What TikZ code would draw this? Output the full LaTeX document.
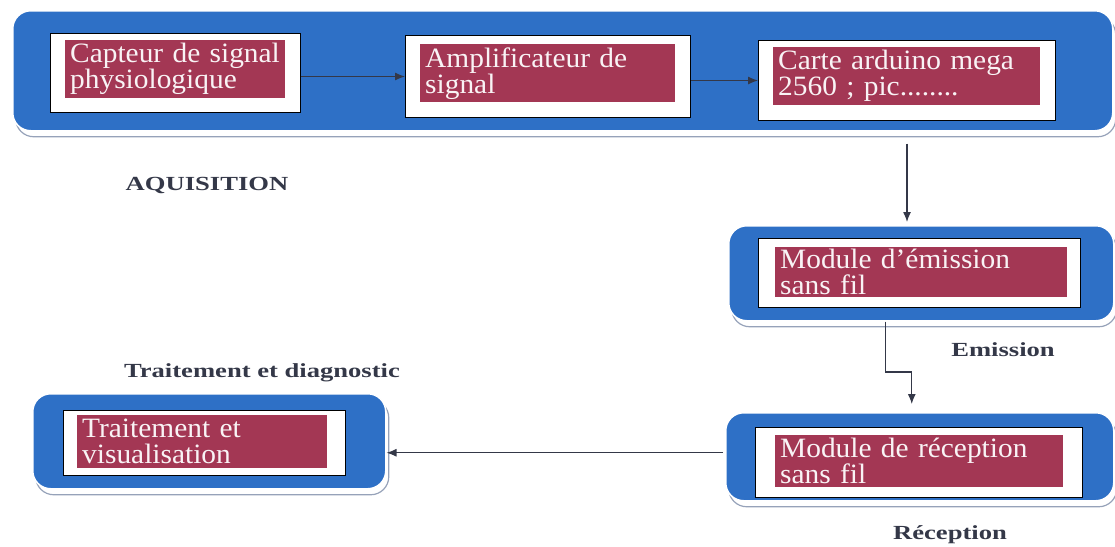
\documentclass[tikz,border=0pt]{standalone}
\usepackage{fontspec}
\usepackage{tikz}
\usetikzlibrary{arrows.meta,positioning,shadows}

\newfontfamily\lblfont[FakeStretch=1.05]{Liberation Serif}
\newfontfamily\headfont[FakeStretch=1.33]{Liberation Serif}
\newcommand\nohyph{\hyphenpenalty=10000\relax\exhyphenpenalty=10000\relax\frenchspacing}

\definecolor{bandblue}{RGB}{46,112,198}
\definecolor{labelred}{RGB}{163,55,84}
\definecolor{rimgray}{RGB}{150,162,185}
\definecolor{arrowgray}{RGB}{52,56,72}

\begin{document}
\begin{tikzpicture}[
  x=1pt, y=-1pt,
  band/.style={fill=bandblue, draw=white, line width=1.5pt, rounded corners=18pt,
    anchor=north west, inner sep=0pt,
    general shadow={shadow xshift=3pt, shadow yshift=-6pt, fill=white, draw=rimgray, line width=1.2pt}},
  frame/.style={fill=white, draw=black, line width=1pt, anchor=north west, inner sep=0pt},
  lbl/.style={fill=labelred, text=white!94!labelred, align=left, anchor=north west,
    inner xsep=5pt, inner ysep=0pt, execute at begin node=\nohyph,
    font=\lblfont\fontsize{28}{26}\selectfont},
  head/.style={text=arrowgray, font=\headfont\bfseries\fontsize{20}{22}\selectfont},
  link/.style={draw=arrowgray, line width=1.2pt, -{Latex[length=10pt,width=8pt]}}
]
\useasboundingbox (0,0) rectangle (1115,546);

% acquisition chain
\node[band, minimum width=1100pt, minimum height=120pt] (acq) at (12,10) {};
\node[frame, minimum width=250pt, minimum height=79pt] (capt) at (50,33) {};
\node[lbl, minimum height=58pt, text width=210pt] (captl) at (65,40) {Capteur de signal\\physiologique};
\node[frame, minimum width=285pt, minimum height=82pt] (ampl) at (405,35) {};
\node[lbl, minimum height=58pt, text width=245pt] (ampll) at (420,44) {Amplificateur de\\signal};
\node[frame, minimum width=297pt, minimum height=80pt] (carte) at (758,40) {};
\node[lbl, minimum height=58pt, text width=257pt] (cartel) at (773,47) {Carte arduino mega\\2560 ; pic........};

% emission
\node[band, minimum width=385pt, minimum height=95pt] (emis) at (728,225) {};
\node[frame, minimum width=322pt, minimum height=69pt] (emisf) at (758,238) {};
\node[lbl, minimum height=50pt, text width=282pt] (emisl) at (775,247) {Module d’émission\\sans fil};

% reception
\node[band, minimum width=388pt, minimum height=88pt] (recep) at (725,412) {};
\node[frame, minimum width=327pt, minimum height=70pt] (recepf) at (755,427) {};
\node[lbl, minimum height=52pt, text width=278pt] (recepl) at (775,435) {Module de réception\\sans fil};

% traitement
\node[band, minimum width=353pt, minimum height=95pt] (trait) at (32,393) {};
\node[frame, minimum width=282pt, minimum height=65pt] (traitf) at (63,410) {};
\node[lbl, minimum height=53pt, text width=240pt] (traitl) at (77,415) {Traitement et\\visualisation};

% stage titles
\node[head] (tacq) at (207,185) {AQUISITION};
\node[head] (temis) at (1003,350) {Emission};
\node[head] (trecep) at (950,535) {Réception};
\node[head] (ttrait) at (262,373) {Traitement et diagnostic};

% connectors
\draw[link] (capt.east |- ampl.west) -- (ampl.west);
\draw[link] (ampl.east |- carte.west) -- (carte.west);
\draw[link, shorten <=12pt, shorten >=3pt] (carte.south |- acq.south) -- (carte.south |- emis.north);
\draw[link, shorten >=8pt] ([xshift=-36pt]emis.south) |- ([xshift=-8pt, yshift=40pt]recep.north) -- ([xshift=-8pt]recep.north);
\draw[link, shorten <=2pt] ([yshift=4pt]recep.west) -- ([yshift=4pt]recep.west -| trait.east);
\end{tikzpicture}
\end{document}
